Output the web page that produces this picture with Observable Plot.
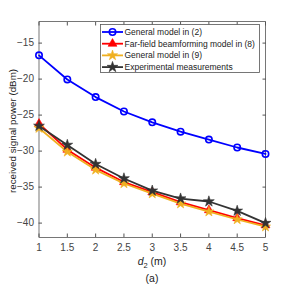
<!DOCTYPE html>
<html><head><meta charset="utf-8">
<script src="https://cdn.jsdelivr.net/npm/d3@7"></script>
<script src="https://cdn.jsdelivr.net/npm/@observablehq/plot@0.6"></script>
<style>body{margin:0;background:#fff}#c{position:relative;width:293px;height:285px}</style>
</head><body><div id="c"></div>
<script>
const d2 = [1, 1.5, 2, 2.5, 3, 3.5, 4, 4.5, 5];
const general2 = [-16.7, -20.05, -22.5, -24.5, -26.0, -27.3, -28.4, -29.5, -30.4];
const farField8 = [-26.2, -29.8, -32.3, -34.3, -35.7, -37.1, -38.2, -39.3, -40.3];
const general9 = [-26.8, -30.1, -32.6, -34.5, -35.9, -37.3, -38.4, -39.5, -40.5];
const experimental = [-26.5, -29.15, -31.8, -33.8, -35.5, -36.6, -37.0, -38.3, -40.0];
const xTicks = [1, 1.5, 2, 2.5, 3, 3.5, 4, 4.5, 5];
const yTicks = [-15, -20, -25, -30, -35, -40];
const seriesNames = ["General model in (2)", "Far-field beamforming model in (8)", "General model in (9)", "Experimental measurements"];
const seriesValues = [general2, farField8, general9, experimental];
const seriesColors = ["#0000ff", "#ff0000", "#f0b020", "#333333"];
const seriesSymbols = ["circle", "triangle", "star", "star"];

const rows = [];
seriesNames.forEach((s, i) => d2.forEach((x, j) => rows.push({s, i, x, y: seriesValues[i][j]})));
const font = "'Liberation Sans', Arial, sans-serif";
const ax = "#555";
const radii = [3.2, 3.3, 3.2, 3.4];

const marks = [];
seriesNames.forEach((s, i) => {
  const data = rows.filter(r => r.i === i);
  marks.push(Plot.line(data, {x: "x", y: "y", stroke: seriesColors[i], strokeWidth: 1.8}));
  if (i === 0) {
    marks.push(Plot.dot(data, {x: "x", y: "y", r: radii[i], stroke: seriesColors[i], strokeWidth: 1.6, fill: "none"}));
  } else {
    marks.push(Plot.dot(data, {x: "x", y: "y", r: radii[i], symbol: seriesSymbols[i], fill: seriesColors[i], stroke: seriesColors[i], strokeWidth: 0.6}));
  }
});

const plot = Plot.plot({
  width: 293, height: 285,
  marginLeft: 38.5, marginRight: 28, marginTop: 21, marginBottom: 48,
  style: {fontFamily: font, fontSize: "10px", color: "#444", background: "#fff"},
  x: {domain: [1, 5]},
  y: {domain: [-42, -12]},
  marks: [
    Plot.frame({stroke: ax, strokeWidth: 0.8}),
    Plot.axisX({ticks: xTicks, tickSize: 0, tickPadding: 6, tickFormat: d => String(d), label: null, fontSize: 10}),
    Plot.axisX({ticks: xTicks, tickSize: -3.5, text: null, label: null, stroke: ax}),
    Plot.axisX({anchor: "top", ticks: xTicks, tickSize: -3.5, text: null, label: null, stroke: ax}),
    Plot.axisY({ticks: yTicks, tickSize: 0, tickPadding: 5, label: null, fontSize: 10}),
    Plot.axisY({ticks: yTicks, tickSize: -3.5, text: null, label: null, stroke: ax}),
    Plot.axisY({anchor: "right", ticks: yTicks, tickSize: -3.5, text: null, label: null, stroke: ax}),
    ...marks
  ]
});
document.getElementById("c").appendChild(plot);

const svg = d3.select(plot);
// axis labels
const xl = svg.append("text").attr("x", 152).attr("y", 265).attr("text-anchor", "middle")
  .attr("font-family", font).attr("font-size", 10.5).attr("fill", "#222");
xl.append("tspan").attr("font-style", "italic").text("d");
xl.append("tspan").attr("font-size", 7.5).attr("dy", 3).text("2");
xl.append("tspan").attr("dy", -3).text(" (m)");
svg.append("text").attr("x", 152).attr("y", 282).attr("text-anchor", "middle")
  .attr("font-family", font).attr("font-size", 10.5).attr("fill", "#222").text("(a)");
svg.append("text").attr("transform", "translate(13,131) rotate(-90)").attr("text-anchor", "middle")
  .attr("dy", "0.35em").attr("font-family", font).attr("font-size", 9.8).attr("fill", "#222")
  .text("received signal power (dBm)");

// legend
const lg = svg.append("g").attr("text-anchor", "start");
lg.append("rect").attr("x", 100.5).attr("y", 24.5).attr("width", 159).attr("height", 48)
  .attr("fill", "#fff").attr("stroke", ax).attr("stroke-width", 0.8);
const symMap = {circle: d3.symbolCircle, triangle: d3.symbolTriangle, star: d3.symbolStar};
seriesNames.forEach((s, i) => {
  const y = 32 + i * 11.7;
  lg.append("line").attr("x1", 102).attr("x2", 123).attr("y1", y).attr("y2", y)
    .attr("stroke", seriesColors[i]).attr("stroke-width", 1.8);
  const sz = Math.PI * radii[i] * radii[i];
  lg.append("path").attr("transform", `translate(112.5,${y})`)
    .attr("d", d3.symbol(symMap[seriesSymbols[i]], sz)())
    .attr("fill", i === 0 ? "none" : seriesColors[i]).attr("stroke", seriesColors[i])
    .attr("stroke-width", i === 0 ? 1.6 : 0.6);
  lg.append("text").attr("x", 124.5).attr("y", y).attr("dy", "0.35em").attr("text-anchor", "start")
    .attr("font-family", font).attr("font-size", 8.5).attr("fill", "#222").text(s);
});
</script>
</body></html>
